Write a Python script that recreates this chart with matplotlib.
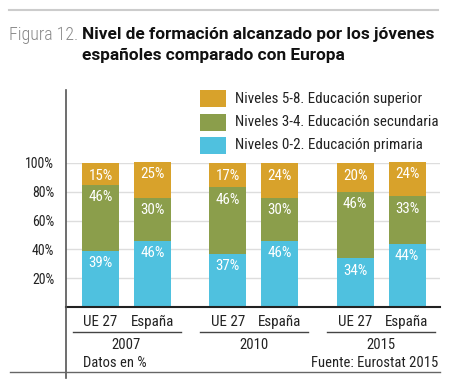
import matplotlib
matplotlib.use("Agg")
import matplotlib.pyplot as plt
from matplotlib.lines import Line2D
from matplotlib.patches import Rectangle

plt.rcParams['font.family'] = ['Roboto Condensed', 'DejaVu Sans']

years = ["2007", "2010", "2015"]
regions = ["UE 27", "España"]
series_names = ["Niveles 0-2. Educación primaria",
                "Niveles 3-4. Educación secundaria",
                "Niveles 5-8. Educación superior"]
primaria = [39, 46, 37, 46, 34, 44]
secundaria = [46, 30, 46, 30, 46, 33]
superior = [15, 25, 17, 24, 20, 24]
series = [primaria, secundaria, superior]
colors = ["#4FC1DF", "#8B9E4B", "#D8A22B"]
yticks = [20, 40, 60, 80, 100]

W, H = 450, 382
fig = plt.figure(figsize=(W / 100, H / 100), dpi=100)

def fx(x):
    return x / W

def fy(y):
    return 1 - y / H

# axes placement (pixel units)
ax_l, ax_r, ax_b, ax_t = 66, 440, 307, 163
ax = fig.add_axes([fx(ax_l), fy(ax_b), (ax_r - ax_l) / W, (ax_b - ax_t) / H])
ax.set_xlim(ax_l, ax_r)

first_center, group_gap, bar_gap, bar_w = 100.5, 127.25, 52, 37
positions = []
for g in range(len(years)):
    for i in range(len(regions)):
        positions.append(first_center + g * group_gap + i * bar_gap)

bottoms = [0] * len(positions)
for vals, col in zip(series, colors):
    bars = ax.bar(positions, vals, width=bar_w, bottom=bottoms, color=col, zorder=3,
                  linewidth=0)
    for b in bars:
        b.set_clip_on(False)
    for x, v, b in zip(positions, vals, bottoms):
        ax.annotate(f"{v}%", (x, b + v), xytext=(0, -9), textcoords="offset points",
                    ha="center", va="center", color="white", fontsize=10.8,
                    zorder=4, annotation_clip=False)
    bottoms = [b + v for b, v in zip(bottoms, vals)]

ax.set_ylim(0, 100)
ax.set_yticks(yticks)
ax.set_yticklabels([f"{t}%" for t in yticks], fontsize=10, color="#222222")
ax.tick_params(axis="y", length=0, pad=8.5)
ax.set_xticks([])
ax.grid(axis="y", color="#dddddd", linewidth=1, zorder=0)
for s in ["top", "right", "left"]:
    ax.spines[s].set_visible(False)
ax.spines["bottom"].set_color("#222222")
ax.spines["bottom"].set_linewidth(1.5)
ax.spines["bottom"].set_zorder(5)

# figure decorations
def hline(x0, x1, y, color, lw):
    fig.add_artist(Line2D([fx(x0), fx(x1)], [fy(y), fy(y)], color=color, lw=lw))

def vline(x, y0, y1, color, lw):
    fig.add_artist(Line2D([fx(x), fx(x)], [fy(y0), fy(y1)], color=color, lw=lw))

hline(9, 438, 10, "#cccccc", 1.5)
vline(66, 90, 378, "#555555", 1.2)
hline(10, 440, 372, "#666666", 1.0)

title_font = ['Roboto', 'DejaVu Sans']
fig.text(fx(9), fy(35), "Figura 12.", fontsize=12.9, color="#888888", va="center",
         ha="left", fontweight="light")
fig.text(fx(82), fy(35), "Nivel de formación alcanzado por los jóvenes", fontsize=12.4,
         fontweight="bold", color="#111111", va="center", ha="left", family=title_font)
fig.text(fx(82), fy(55), "españoles comparado con Europa", fontsize=12.4,
         fontweight="bold", color="#111111", va="center", ha="left", family=title_font)

# legend (top item = last series)
leg_y = [145, 122, 99]
for name, col, yc in zip(series_names, colors, leg_y):
    fig.add_artist(Rectangle((fx(200), fy(yc + 8.5)), 26 / W, 17 / H,
                             transform=fig.transFigure, color=col, lw=0))
    fig.text(fx(235), fy(yc), name, fontsize=10.8, color="#222222", va="center", ha="left")

# category labels
for g, yr in enumerate(years):
    for i, reg in enumerate(regions):
        x = positions[g * len(regions) + i]
        fig.text(fx(x), fy(322), reg, fontsize=10.8, color="#222222", ha="center", va="center")
    gc = (positions[g * 2] + positions[g * 2 + 1]) / 2
    hline(gc - 54, gc + 54, 332, "#444444", 1.0)
    fig.text(fx(gc), fy(345), yr, fontsize=10.5, color="#222222", ha="center", va="center")

fig.text(fx(83), fy(363), "Datos en %", fontsize=10.5, color="#222222", ha="left", va="center")
fig.text(fx(438), fy(363), "Fuente: Eurostat 2015", fontsize=10.5, color="#222222",
         ha="right", va="center")

fig.savefig("out.png", dpi=100)
